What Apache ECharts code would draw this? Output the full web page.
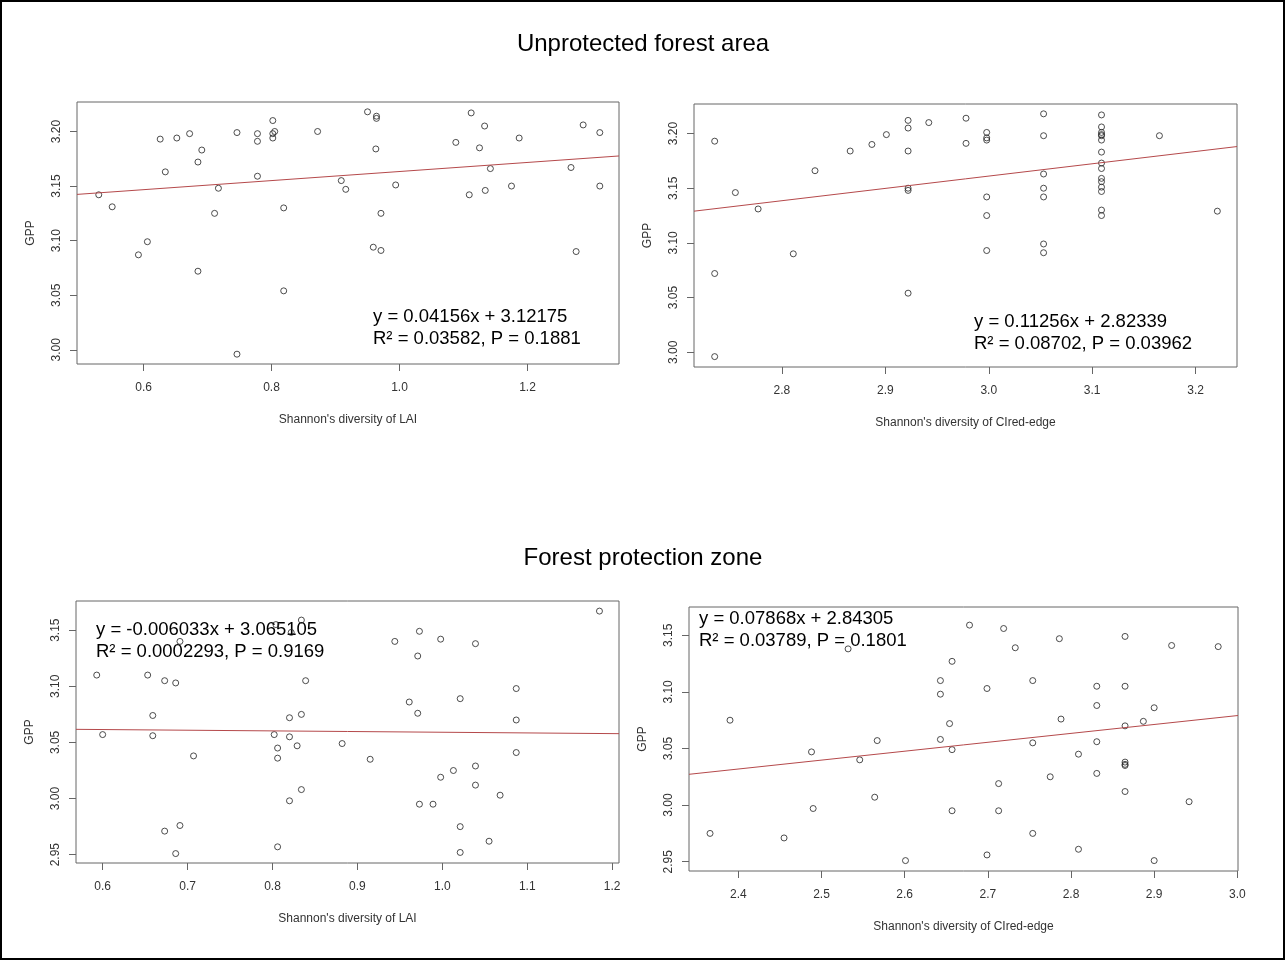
<!DOCTYPE html>
<html>
<head>
<meta charset="utf-8">
<title>GPP vs Shannon's diversity</title>
<script src="https://cdn.jsdelivr.net/npm/echarts@6/dist/echarts.min.js"></script>
<style>
    html, body { margin: 0; padding: 0; background: #fff; }
    #main { width: 1285px; height: 960px; }
</style>
</head>
<body>
<div id="main"></div>
<script>
"use strict"

// ---- data ----
// unprotected forest area, GPP ~ Shannon's diversity of LAI
var unprotLaiX = [0.530, 0.551, 0.592, 0.606, 0.626, 0.634, 0.652, 0.672, 0.685, 0.691,
    0.685, 0.711, 0.717, 0.746, 0.746, 0.778, 0.778, 0.778, 0.802, 0.802,
    0.802, 0.805, 0.819, 0.819, 0.872, 0.909, 0.916, 0.950, 0.964, 0.964,
    0.963, 0.971, 0.959, 0.971, 0.994, 1.088, 1.112, 1.133, 1.125, 1.142,
    1.109, 1.134, 1.175, 1.187, 1.268, 1.287, 1.313, 1.313, 1.276];
var unprotLaiY = [3.142, 3.131, 3.087, 3.099, 3.193, 3.163, 3.194, 3.198, 3.172, 3.183,
    3.072, 3.125, 3.148, 3.199, 2.996, 3.198, 3.191, 3.159, 3.210, 3.198,
    3.194, 3.200, 3.130, 3.054, 3.200, 3.155, 3.147, 3.218, 3.214, 3.212,
    3.184, 3.125, 3.094, 3.091, 3.151, 3.190, 3.217, 3.205, 3.185, 3.166,
    3.142, 3.146, 3.150, 3.194, 3.167, 3.206, 3.199, 3.150, 3.090];

// unprotected forest area, GPP ~ Shannon's diversity of CIred-edge
var unprotCiX = [2.735, 2.735, 2.735, 2.755, 2.777, 2.811, 2.832, 2.866, 2.887, 2.901,
    2.922, 2.922, 2.922, 2.922, 2.922, 2.922, 2.942, 2.978, 2.978, 2.998,
    2.998, 2.998, 2.998, 2.998, 2.998, 3.053, 3.053, 3.053, 3.053, 3.053,
    3.053, 3.053, 3.109, 3.109, 3.109, 3.109, 3.109, 3.109, 3.109, 3.109,
    3.109, 3.109, 3.109, 3.109, 3.109, 3.109, 3.109, 3.165, 3.221];
var unprotCiY = [3.193, 3.072, 2.996, 3.146, 3.131, 3.090, 3.166, 3.184, 3.190, 3.199,
    3.212, 3.205, 3.184, 3.150, 3.148, 3.054, 3.210, 3.214, 3.191, 3.201,
    3.196, 3.194, 3.142, 3.125, 3.093, 3.218, 3.198, 3.163, 3.150, 3.142,
    3.099, 3.091, 3.217, 3.206, 3.201, 3.199, 3.198, 3.194, 3.183, 3.173,
    3.168, 3.159, 3.156, 3.151, 3.147, 3.130, 3.125, 3.198, 3.129];

// forest protection zone, GPP ~ Shannon's diversity of LAI
var protLaiX = [0.593, 0.600, 0.653, 0.659, 0.659, 0.673, 0.686, 0.691, 0.673, 0.691,
    0.686, 0.707, 0.802, 0.804, 0.822, 0.834, 0.820, 0.834, 0.839, 0.820,
    0.806, 0.806, 0.829, 0.834, 0.820, 0.806, 0.882, 0.915, 0.944, 0.973,
    0.971, 0.961, 0.971, 0.998, 1.039, 1.021, 1.087, 1.087, 1.087, 1.185,
    1.013, 0.998, 1.039, 1.039, 1.068, 0.973, 0.989, 1.021, 1.055, 1.021];
var protLaiY = [3.110, 3.057, 3.110, 3.074, 3.056, 3.105, 3.103, 3.140, 2.971, 2.976,
    2.951, 3.038, 3.057, 3.155, 3.148, 3.159, 3.072, 3.075, 3.105, 3.055,
    3.045, 3.036, 3.047, 3.008, 2.998, 2.957, 3.049, 3.035, 3.140, 3.149,
    3.127, 3.086, 3.076, 3.142, 3.138, 3.089, 3.098, 3.070, 3.041, 3.167,
    3.025, 3.019, 3.029, 3.012, 3.003, 2.995, 2.995, 2.975, 2.962, 2.952];

// forest protection zone, GPP ~ Shannon's diversity of CIred-edge
var protCiX = [2.366, 2.390, 2.455, 2.488, 2.490, 2.532, 2.546, 2.567, 2.564, 2.601,
    2.643, 2.643, 2.643, 2.678, 2.719, 2.657, 2.733, 2.786, 2.865, 2.921,
    2.977, 2.699, 2.754, 2.831, 2.865, 2.831, 2.900, 2.654, 2.788, 2.887,
    2.865, 2.657, 2.754, 2.831, 2.809, 2.865, 2.865, 2.865, 2.775, 2.831,
    2.713, 2.865, 2.657, 2.713, 2.942, 2.754, 2.699, 2.809, 2.900];
var protCiY = [2.975, 3.075, 2.971, 3.047, 2.997, 3.138, 3.040, 3.057, 3.007, 2.951,
    3.110, 3.098, 3.058, 3.159, 3.156, 3.127, 3.139, 3.147, 3.149, 3.141,
    3.140, 3.103, 3.110, 3.105, 3.105, 3.088, 3.086, 3.072, 3.076, 3.074,
    3.070, 3.049, 3.055, 3.056, 3.045, 3.038, 3.036, 3.035, 3.025, 3.028,
    3.019, 3.012, 2.995, 2.995, 3.003, 2.975, 2.956, 2.961, 2.951];

// fitted lines (slope, intercept) as printed in each panel
var fitSlope = [0.04156, 0.11256, -0.006033, 0.07868];
var fitIntercept = [3.12175, 2.82339, 3.065105, 2.84305];

// tick labels
var laiTicksTop = [0.6, 0.8, 1.0, 1.2];
var ciTicksTop = [2.8, 2.9, 3.0, 3.1, 3.2];
var gppTicksTop = [3.00, 3.05, 3.10, 3.15, 3.20];
var laiTicksBottom = [0.6, 0.7, 0.8, 0.9, 1.0, 1.1, 1.2];
var ciTicksBottom = [2.4, 2.5, 2.6, 2.7, 2.8, 2.9, 3.0];
var gppTicksBottom = [2.95, 3.00, 3.05, 3.10, 3.15];

// texts
var sectionTitles = ["Unprotected forest area", "Forest protection zone"];
var xNames = ["Shannon's diversity of LAI", "Shannon's diversity of CIred-edge"];
var eqLine1 = ["y = 0.04156x + 3.12175", "y = 0.11256x + 2.82339",
    "y = -0.006033x + 3.065105", "y = 0.07868x + 2.84305"];
var eqLine2 = ["R\u00B2 = 0.03582, P = 0.1881", "R\u00B2 = 0.08702, P = 0.03962",
    "R\u00B2 = 0.0002293, P = 0.9169", "R\u00B2 = 0.03789, P = 0.1801"];

var FONT = "'Liberation Sans', Arial, Helvetica, sans-serif";

// panel layout: grid box in px, axis ranges (R style 4% padding), text position
var panels = [
    {grid: [77, 102, 542, 262], x: [0.496, 1.343], y: [2.987, 3.227],
        xs: unprotLaiX, ys: unprotLaiY, xt: laiTicksTop, yt: gppTicksTop, name: xNames[0], eq: [373, 306]},
    {grid: [694, 104, 543, 263], x: [2.715, 3.240], y: [2.9865, 3.227],
        xs: unprotCiX, ys: unprotCiY, xt: ciTicksTop, yt: gppTicksTop, name: xNames[1], eq: [974, 311]},
    {grid: [76, 601, 543, 262], x: [0.5686, 1.208], y: [2.9426, 3.176],
        xs: protLaiX, ys: protLaiY, xt: laiTicksBottom, yt: gppTicksBottom, name: xNames[0], eq: [96, 619]},
    {grid: [689, 607, 549, 264], x: [2.3407, 3.0008], y: [2.9418, 3.175],
        xs: protCiX, ys: protCiY, xt: ciTicksBottom, yt: gppTicksBottom, name: xNames[1], eq: [699, 608]}
];

function pairs(xs, ys){
    var out = [];
    for(let i = 0; i < xs.length; i++){
        out.push([xs[i], ys[i]]);
    }
    return out;
}

function buildOption(){
    var grids = [], xAxes = [], yAxes = [], series = [], graphics = [];

    for(let i = 0; i < panels.length; i++){
        let p = panels[i];
        grids.push({
            left: p.grid[0], top: p.grid[1], width: p.grid[2], height: p.grid[3],
            show: true, borderColor: '#666', borderWidth: 1, backgroundColor: 'transparent'
        });
        xAxes.push({
            gridIndex: i, type: 'value', min: p.x[0], max: p.x[1],
            axisLine: {show: false},
            splitLine: {show: false},
            axisTick: {show: true, customValues: p.xt, length: 7, lineStyle: {color: '#666'}},
            axisLabel: {
                customValues: p.xt, margin: 18, color: '#333', fontSize: 12, fontFamily: FONT,
                formatter: function(v){ return v.toFixed(1); }
            },
            name: p.name, nameLocation: 'middle', nameGap: 50,
            nameTextStyle: {color: '#333', fontSize: 12, fontFamily: FONT}
        });
        yAxes.push({
            gridIndex: i, type: 'value', min: p.y[0], max: p.y[1],
            axisLine: {show: false},
            splitLine: {show: false},
            axisTick: {show: true, customValues: p.yt, length: 7, lineStyle: {color: '#666'}},
            axisLabel: {
                customValues: p.yt, margin: 14, rotate: 90, color: '#333', fontSize: 12, fontFamily: FONT,
                formatter: function(v){ return v.toFixed(2); }
            },
            name: 'GPP', nameLocation: 'middle', nameGap: 40, nameRotate: 90,
            nameTextStyle: {color: '#333', fontSize: 12, fontFamily: FONT}
        });
        series.push({
            type: 'scatter', xAxisIndex: i, yAxisIndex: i,
            data: pairs(p.xs, p.ys),
            symbol: 'circle', symbolSize: 6,
            itemStyle: {color: 'rgba(0,0,0,0)', borderColor: '#222', borderWidth: 1}
        });
        // regression line across the whole plot region, like abline()
        series.push({
            type: 'line', xAxisIndex: i, yAxisIndex: i,
            showSymbol: false, silent: true,
            lineStyle: {color: '#b5494b', width: 1},
            data: [
                [p.x[0], fitSlope[i] * p.x[0] + fitIntercept[i]],
                [p.x[1], fitSlope[i] * p.x[1] + fitIntercept[i]]
            ]
        });
        graphics.push({
            type: 'text', x: p.eq[0], y: p.eq[1],
            style: {text: eqLine1[i] + '\n' + eqLine2[i], font: '18.5px ' + FONT, fill: '#000', lineHeight: 22}
        });
    }

    graphics.push({
        type: 'text', x: 643, y: 44,
        style: {text: sectionTitles[0], font: '24px ' + FONT, fill: '#000', align: 'center', verticalAlign: 'middle'}
    });
    graphics.push({
        type: 'text', x: 643, y: 558,
        style: {text: sectionTitles[1], font: '24px ' + FONT, fill: '#000', align: 'center', verticalAlign: 'middle'}
    });
    // frame round the whole figure
    graphics.push({
        type: 'rect', shape: {x: 1, y: 1, width: 1283, height: 958},
        style: {fill: 'none', stroke: '#000', lineWidth: 2}
    });

    return {
        animation: false,
        backgroundColor: '#fff',
        grid: grids,
        xAxis: xAxes,
        yAxis: yAxes,
        series: series,
        graphic: graphics
    };
}

var chart = echarts.init(document.getElementById('main'));
chart.setOption(buildOption());
</script>
</body>
</html>
